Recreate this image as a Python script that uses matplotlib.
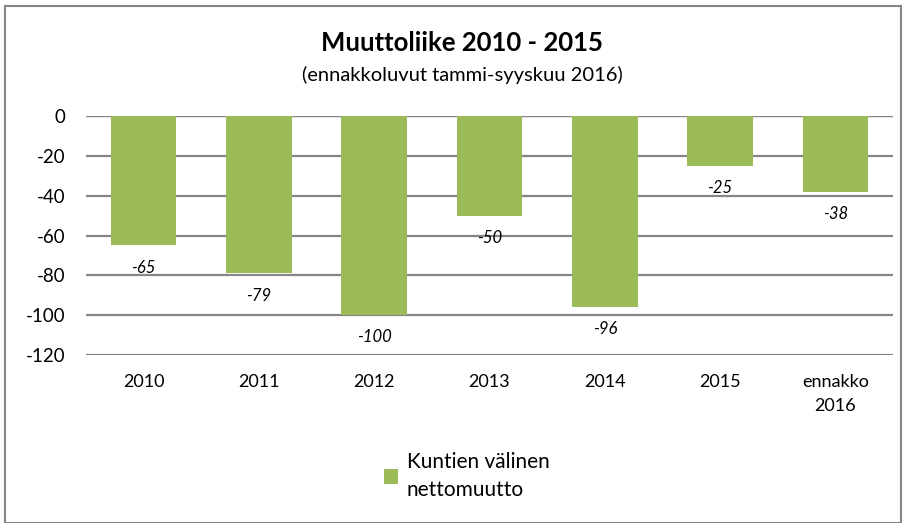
import matplotlib.pyplot as plt
from matplotlib.patches import Rectangle

plt.rcParams['font.family'] = ['Lato', 'DejaVu Sans']
plt.rcParams['axes.unicode_minus'] = False

categories = ['2010', '2011', '2012', '2013', '2014', '2015', 'ennakko\n2016']
values = [-65, -79, -100, -50, -96, -25, -38]
bar_color = '#9BBB59'

fig = plt.figure(figsize=(9.06, 5.23), dpi=100)
ax = fig.add_axes([0.0949, 0.3212, 0.8908, 0.457])

x = range(len(categories))
bars = ax.bar(x, values, width=0.57, color=bar_color, zorder=2,
              label='Kuntien välinen\nnettomuutto')

for xi, v in zip(x, values):
    ax.annotate(str(v), (xi, v), xytext=(0, -16), textcoords='offset points',
                ha='center', va='center', fontsize=12, style='italic')

ax.set_ylim(-120, 0)
ax.set_xlim(-0.5, len(categories) - 0.5)
ax.set_yticks(range(-120, 1, 20))
ax.yaxis.grid(True, color='#868686', linewidth=1.6, zorder=0)
ax.tick_params(axis='y', length=0, labelsize=13.5, pad=15)
ax.tick_params(axis='x', length=0, labelsize=13, pad=14)
ax.set_xticks(list(x))
ax.set_xticklabels(categories, linespacing=1.55)
for s in ax.spines.values():
    s.set_visible(False)
ax.axhline(0, color='#868686', linewidth=1.6, zorder=1)

fig.text(0.51, 0.918, 'Muuttoliike 2010 - 2015', ha='center', va='center',
         fontsize=18.5, fontweight='bold')
fig.text(0.51, 0.857, '(ennakkoluvut tammi-syyskuu 2016)', ha='center',
         va='center', fontsize=14.5)

leg = fig.legend(handles=[bars], loc='center', bbox_to_anchor=(0.515, 0.09),
                 frameon=False, fontsize=15, handlelength=0.7, handleheight=0.7,
                 handletextpad=0.4)
for t in leg.get_texts():
    t.set_linespacing(1.45)

fig.patches.append(Rectangle((0.006, 0.0), 0.988, 0.988, transform=fig.transFigure,
                             fill=False, edgecolor='#868686', linewidth=1.5))

fig.savefig('out.png', dpi=100)
